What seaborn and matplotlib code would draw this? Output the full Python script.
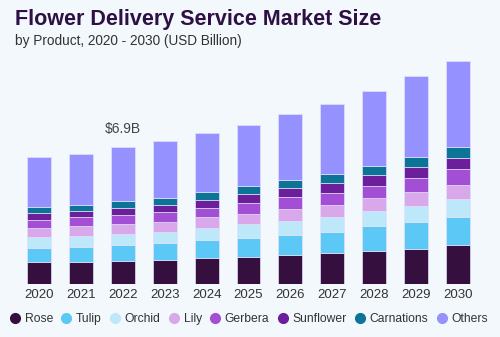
import matplotlib
matplotlib.use("Agg")
import matplotlib.pyplot as plt
from matplotlib.lines import Line2D
import seaborn as sns
import numpy as np
import pandas as pd

years = ["2020", "2021", "2022", "2023", "2024", "2025", "2026", "2027", "2028", "2029", "2030"]
rose = [1.07, 1.08, 1.13, 1.18, 1.27, 1.35, 1.43, 1.52, 1.64, 1.77, 1.95]
tulip = [0.74, 0.76, 0.81, 0.86, 0.93, 0.98, 1.05, 1.11, 1.27, 1.32, 1.42]
orchid = [0.53, 0.57, 0.57, 0.59, 0.61, 0.66, 0.69, 0.76, 0.76, 0.84, 0.91]
lily = [0.46, 0.48, 0.48, 0.49, 0.54, 0.52, 0.58, 0.59, 0.64, 0.68, 0.69]
gerbera = [0.42, 0.46, 0.46, 0.51, 0.49, 0.57, 0.61, 0.62, 0.64, 0.74, 0.81]
sunflower = [0.34, 0.33, 0.37, 0.37, 0.41, 0.43, 0.46, 0.51, 0.54, 0.56, 0.59]
carnations = [0.30, 0.32, 0.35, 0.35, 0.37, 0.41, 0.41, 0.46, 0.47, 0.51, 0.54]
others = [2.53, 2.58, 2.73, 2.85, 2.99, 3.11, 3.34, 3.53, 3.80, 4.10, 4.37]

series_names = ["Rose", "Tulip", "Orchid", "Lily", "Gerbera", "Sunflower", "Carnations", "Others"]
series_vals = [rose, tulip, orchid, lily, gerbera, sunflower, carnations, others]
colors = ["#35103F", "#5BC8F5", "#BDE8F9", "#D9A8EA", "#A24FD6", "#6C1F9A", "#0B7497", "#9591FE"]

annot_year = "2022"
annot_text = "$6.9B"

bg = "#F3F8FC"
sns.set_theme(style="white")
plt.rcParams["font.family"] = ["Liberation Sans", "DejaVu Sans"]

fig = plt.figure(figsize=(5.0, 3.37), dpi=100, facecolor=bg)
ax = fig.add_axes([18 / 500, 53.5 / 337, 461 / 500, 236.9 / 337])
ax.set_facecolor(bg)

bottom = np.zeros(len(years))
for name, vals, c in zip(series_names, series_vals, colors):
    df = pd.DataFrame({"year": years, "value": vals})
    sns.barplot(data=df, x="year", y="value", color=c, bottom=bottom, width=0.57,
                ax=ax, saturation=1, edgecolor="#E4E0FA", linewidth=0.5)
    bottom = bottom + np.array(vals)

ax.set_ylim(0, 12)
ax.set_xlim(-0.5, len(years) - 0.5)
ax.set_xlabel("")
ax.set_ylabel("")
ax.set_yticks([])
for s in ax.spines.values():
    s.set_visible(False)
ax.tick_params(axis="x", length=0, pad=4, labelsize=9.5, labelcolor="#333333")

i = years.index(annot_year)
ax.text(i, bottom[i] + 0.55, annot_text, ha="center", va="bottom", fontsize=10, color="#444444")

fig.text(15 / 500, 1 - 19.5 / 337, "Flower Delivery Service Market Size", fontsize=15.5,
         fontweight="heavy", color="#2E1045", va="center", ha="left")
fig.text(15 / 500, 1 - 41.5 / 337, "by Product, 2020 - 2030 (USD Billion)", fontsize=9.8,
         color="#333333", va="center", ha="left")

handles = [Line2D([0], [0], marker="o", linestyle="", markersize=7, markerfacecolor=c,
                  markeredgecolor=c) for c in colors]
fig.legend(handles, series_names, loc="center", bbox_to_anchor=(0.497, 1 - 319 / 337), ncol=8,
           frameon=False, fontsize=8.7, handletextpad=0.3, columnspacing=0.6,
           handlelength=1.0, labelcolor="#333333")

fig.savefig("out.png", dpi=100, facecolor=bg)
